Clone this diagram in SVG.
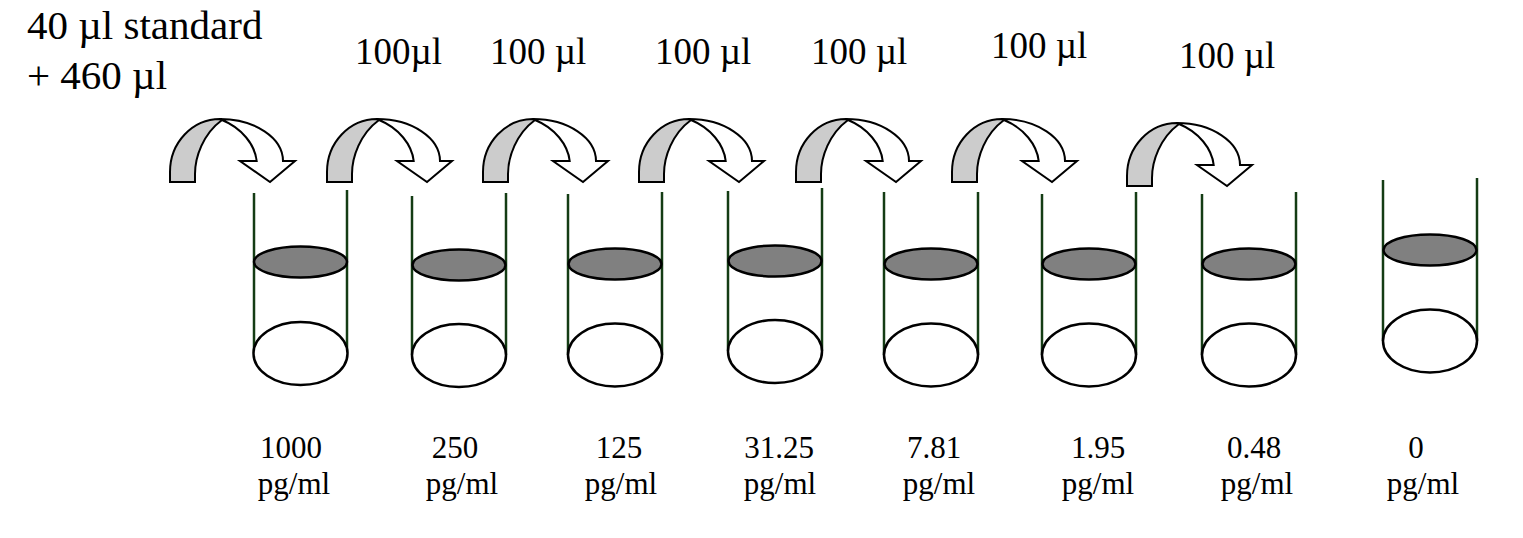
<svg xmlns="http://www.w3.org/2000/svg" xmlns:xlink="http://www.w3.org/1999/xlink" width="1523" height="538" viewBox="0 0 1523 538">
<style>
  text { font-family: "Liberation Serif", "Times New Roman", serif; fill: #000; }
  .big { font-size: 41px; }
  .vol { font-size: 37px; }
  .conc { font-size: 31px; text-anchor: middle; }
  .wall { stroke: #143c14; stroke-width: 2.5; fill: none; }
  .liquid { fill: #808080; stroke: #000; stroke-width: 2.5; }
  .base { fill: #fff; stroke: #000; stroke-width: 2.5; }
  .back { fill: #cccccc; stroke: #000; stroke-width: 2; stroke-linejoin: miter; }
  .front { fill: #fff; stroke: #000; stroke-width: 2; stroke-linejoin: miter; }
</style>
<defs>
  <g id="curved-arrow">
    <path class="back" d="M0,0 L0,-10 A50,53 0 0 1 50,-63 L52,-62 C33,-48 25,-25 25,-8 L25,0 Z"/>
    <path class="front" d="M50,-63 A63,42 0 0 1 113,-21 L125,-21 L100,0 L70,-21 L86.7,-21 C85,-37 72,-54 52,-62 Z"/>
  </g>
</defs>
<rect width="1523" height="538" fill="#fff"/>

<g id="title">
  <text class="big" x="27" y="39">40 µl standard</text>
  <text class="big" x="27" y="89">+ 460 µl</text>
</g>

<g id="connectors">
  <use xlink:href="#curved-arrow" href="#curved-arrow" x="170" y="182"/>
  <use xlink:href="#curved-arrow" href="#curved-arrow" x="327" y="182"/>
  <use xlink:href="#curved-arrow" href="#curved-arrow" x="483" y="182"/>
  <use xlink:href="#curved-arrow" href="#curved-arrow" x="639" y="182"/>
  <use xlink:href="#curved-arrow" href="#curved-arrow" x="796" y="182"/>
  <use xlink:href="#curved-arrow" href="#curved-arrow" x="952" y="182"/>
  <use xlink:href="#curved-arrow" href="#curved-arrow" x="1127" y="186"/>
  <text class="vol" x="355" y="64">100µl</text>
  <text class="vol" x="490" y="64">100 µl</text>
  <text class="vol" x="655" y="64">100 µl</text>
  <text class="vol" x="811" y="64">100 µl</text>
  <text class="vol" x="991" y="58">100 µl</text>
  <text class="vol" x="1179" y="68">100 µl</text>
</g>

<g id="tube1">
  <line class="wall" x1="254" y1="193" x2="254" y2="353"/>
  <line class="wall" x1="347" y1="190" x2="347" y2="353"/>
  <ellipse class="base" cx="300.5" cy="353.5" rx="47" ry="31.5"/>
  <ellipse class="liquid" cx="300.5" cy="262" rx="46.5" ry="15.5"/>
  <text class="conc" x="291" y="458">1000</text>
  <text class="conc" x="294" y="494">pg/ml</text>
</g>
<g id="tube2">
  <line class="wall" x1="412" y1="196" x2="412" y2="355"/>
  <line class="wall" x1="506" y1="193" x2="506" y2="355"/>
  <ellipse class="base" cx="459" cy="355.5" rx="47" ry="31.5"/>
  <ellipse class="liquid" cx="459" cy="265" rx="46.5" ry="15.5"/>
  <text class="conc" x="455" y="458">250</text>
  <text class="conc" x="462" y="494">pg/ml</text>
</g>
<g id="tube3">
  <line class="wall" x1="568" y1="194" x2="568" y2="355"/>
  <line class="wall" x1="662" y1="192" x2="662" y2="355"/>
  <ellipse class="base" cx="615" cy="355" rx="47" ry="31.5"/>
  <ellipse class="liquid" cx="615" cy="264" rx="46.5" ry="15.5"/>
  <text class="conc" x="619" y="458">125</text>
  <text class="conc" x="621" y="494">pg/ml</text>
</g>
<g id="tube4">
  <line class="wall" x1="728" y1="191" x2="728" y2="351"/>
  <line class="wall" x1="822" y1="188" x2="822" y2="351"/>
  <ellipse class="base" cx="775" cy="351.5" rx="47" ry="31.5"/>
  <ellipse class="liquid" cx="775" cy="261" rx="46.5" ry="15.5"/>
  <text class="conc" x="779" y="458">31.25</text>
  <text class="conc" x="780" y="494">pg/ml</text>
</g>
<g id="tube5">
  <line class="wall" x1="884" y1="192" x2="884" y2="355"/>
  <line class="wall" x1="978" y1="192" x2="978" y2="355"/>
  <ellipse class="base" cx="931" cy="355" rx="47" ry="31.5"/>
  <ellipse class="liquid" cx="931" cy="264" rx="46.5" ry="15.5"/>
  <text class="conc" x="934" y="458">7.81</text>
  <text class="conc" x="939" y="494">pg/ml</text>
</g>
<g id="tube6">
  <line class="wall" x1="1042" y1="194" x2="1042" y2="355"/>
  <line class="wall" x1="1136" y1="192" x2="1136" y2="355"/>
  <ellipse class="base" cx="1089" cy="355" rx="47" ry="31.5"/>
  <ellipse class="liquid" cx="1089" cy="264" rx="46.5" ry="15.5"/>
  <text class="conc" x="1098" y="458">1.95</text>
  <text class="conc" x="1098" y="494">pg/ml</text>
</g>
<g id="tube7">
  <line class="wall" x1="1202" y1="194" x2="1202" y2="355"/>
  <line class="wall" x1="1296" y1="192" x2="1296" y2="355"/>
  <ellipse class="base" cx="1249" cy="355" rx="47" ry="31.5"/>
  <ellipse class="liquid" cx="1249" cy="264" rx="46.5" ry="15.5"/>
  <text class="conc" x="1254" y="458">0.48</text>
  <text class="conc" x="1257" y="494">pg/ml</text>
</g>
<g id="tube8">
  <line class="wall" x1="1383" y1="180" x2="1383" y2="341"/>
  <line class="wall" x1="1477" y1="178" x2="1477" y2="341"/>
  <ellipse class="base" cx="1430" cy="341" rx="47" ry="31.5"/>
  <ellipse class="liquid" cx="1430" cy="250" rx="46.5" ry="15.5"/>
  <text class="conc" x="1416" y="458">0</text>
  <text class="conc" x="1423" y="494">pg/ml</text>
</g>
</svg>
